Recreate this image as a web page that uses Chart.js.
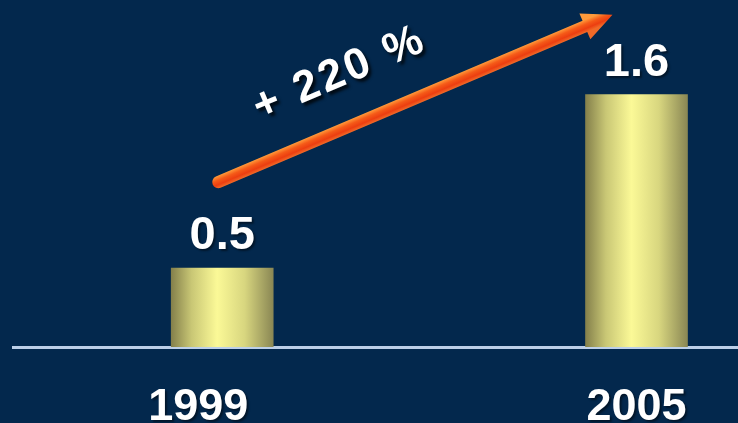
<!DOCTYPE html>
<html>
<head>
<meta charset="utf-8">
<script src="https://cdn.jsdelivr.net/npm/chart.js@4.4.1/dist/chart.umd.min.js"></script>
<style>
  html, body { margin: 0; padding: 0; background: #03284d; }
  #wrap { width: 738px; height: 423px; position: relative; }
</style>
</head>
<body>
<div id="wrap"><canvas id="growthChart"></canvas></div>
<script>
const years = ["1999", "2005"];
const values = [0.5, 1.6];
const growthText = "+ 220 %";

const FONT = "'Liberation Sans', Arial, sans-serif";
// the first year label sits a bit left of its bar
const yearNudge = [-24, 0];

// gold cylinder look: dark edges, bright band just left of centre
function barFill(c) {
  const chart = c.chart;
  const xs = chart.scales.x;
  if (!chart.chartArea || !xs || !c.parsed) return "#e8e690";
  const cx = xs.getPixelForValue(c.parsed.x);
  const g = chart.ctx.createLinearGradient(cx - 51, 0, cx + 51, 0);
  g.addColorStop(0, "#84804b");
  g.addColorStop(0.2, "#c9c775");
  g.addColorStop(0.45, "#fbf997");
  g.addColorStop(0.72, "#d8d67f");
  g.addColorStop(1, "#8a8754");
  return g;
}

const overlay = {
  id: "overlay",
  afterDatasetsDraw(chart) {
    const { ctx, chartArea } = chart;
    const x = chart.scales.x, y = chart.scales.y;

    ctx.save();
    ctx.fillStyle = "#ffffff";
    ctx.textAlign = "center";
    ctx.textBaseline = "alphabetic";
    ctx.shadowColor = "rgba(0,0,0,0.45)";
    ctx.shadowOffsetX = 2;
    ctx.shadowOffsetY = 2;
    ctx.shadowBlur = 2;
    values.forEach((v, i) => {
      const px = x.getPixelForValue(i);
      ctx.font = "bold 47px " + FONT;
      ctx.fillText(v.toFixed(1), px, y.getPixelForValue(v) - 19);
      ctx.font = "bold 45px " + FONT;
      ctx.fillText(years[i], px + yearNudge[i], chartArea.bottom + 73);
    });
    ctx.restore();

    // growth arrow from above the first bar to above the second
    const tx = x.getPixelForValue(0) - 4, ty = y.getPixelForValue(values[0]) - 86;
    const hx = x.getPixelForValue(1) - 24, hy = y.getPixelForValue(values[1]) - 80;
    const len = Math.hypot(hx - tx, hy - ty);
    const ang = Math.atan2(hy - ty, hx - tx);
    const headLen = 30, headW = 14, shaftW = 6;

    ctx.save();
    ctx.translate(tx, ty);
    ctx.rotate(ang);
    const g = ctx.createLinearGradient(0, -shaftW, 0, shaftW);
    g.addColorStop(0, "#ff9a3a");
    g.addColorStop(0.35, "#f55a18");
    g.addColorStop(0.7, "#ec3e10");
    g.addColorStop(1, "#f06a28");
    ctx.fillStyle = g;
    ctx.beginPath();
    ctx.moveTo(0, -shaftW);
    ctx.lineTo(len - headLen, -shaftW);
    ctx.lineTo(len - headLen, -headW);
    ctx.lineTo(len, 0);
    ctx.lineTo(len - headLen, headW);
    ctx.lineTo(len - headLen, shaftW);
    ctx.lineTo(0, shaftW);
    ctx.arc(0, 0, shaftW, Math.PI / 2, Math.PI * 1.5);
    ctx.closePath();
    ctx.fill();

    // growth figure written along the arrow
    ctx.fillStyle = "#ffffff";
    ctx.font = "bold 44px " + FONT;
    ctx.letterSpacing = "3px";
    ctx.textAlign = "center";
    ctx.textBaseline = "alphabetic";
    ctx.shadowColor = "rgba(0,0,0,0.75)";
    ctx.shadowOffsetX = 3;
    ctx.shadowOffsetY = 3;
    ctx.shadowBlur = 3;
    ctx.fillText(growthText, len * 0.36, -40);
    ctx.restore();
  }
};

new Chart(document.getElementById("growthChart"), {
  type: "bar",
  data: {
    datasets: [{
      data: values.map((v, i) => ({ x: i, y: v })),
      backgroundColor: barFill,
      borderWidth: 0,
      barThickness: 102
    }]
  },
  options: {
    responsive: true,
    maintainAspectRatio: false,
    animation: false,
    layout: { padding: { left: 13, right: 0, top: 0, bottom: 76 } },
    plugins: { legend: { display: false }, tooltip: { enabled: false } },
    scales: {
      x: {
        type: "linear",
        offset: false,
        min: -0.505,
        max: 1.245,
        grid: { display: false, drawTicks: false },
        ticks: { display: false },
        border: { display: true, color: "#bccfe8", width: 3 }
      },
      y: { display: false, min: 0, max: 2.2 }
    }
  },
  plugins: [overlay]
});
</script>
</body>
</html>
